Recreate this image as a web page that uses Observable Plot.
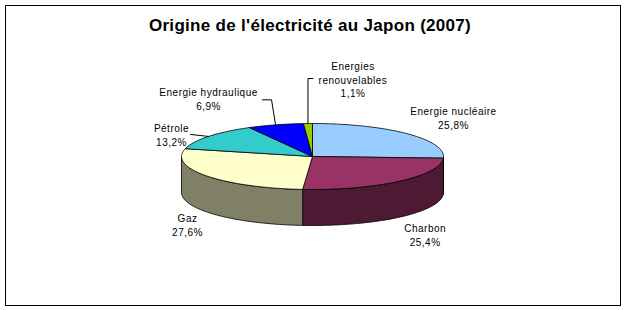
<!DOCTYPE html>
<html><head><meta charset="utf-8">
<script src="https://cdn.jsdelivr.net/npm/d3@7"></script>
<script src="https://cdn.jsdelivr.net/npm/@observablehq/plot@0.6"></script>
<style>html,body{margin:0;padding:0;background:#fff}</style>
</head><body><div id="chart"></div>
<script>
// ---- data ----
const title = "Origine de l'électricité au Japon (2007)";
const categories = ["Energie nucléaire", "Charbon", "Gaz", "Pétrole", "Energie hydraulique", "Energies renouvelables"];
const labelTexts = ["Energie nucléaire", "Charbon", "Gaz", "Pétrole", "Energie hydraulique", "Energies\nrenouvelables"];
const values = [25.8, 25.4, 27.6, 13.2, 6.9, 1.1];
const valueLabels = ["25,8%", "25,4%", "27,6%", "13,2%", "6,9%", "1,1%"];
const topColors = ["#99CCFF", "#993366", "#FFFFCC", "#33CCCC", "#0000FF", "#99CC00"];

// ---- layout (not data) ----
const W = 624, H = 310;
const cx = 312, cy = 156, rx = 131, ry = 33, depth = 36;
// label block offset from the slice's rim point at mid-angle
const labelOffset = [[46, -16], [26, 53], [-19, 49], [-37, -2], [-67, -26], [45, -44.5]];
// leader polylines relative to the rim point (null = no leader)
const leaderOffsets = [null, null, null, [[0, 0], [-18, -2]], [[0, 0], [-4, -25], [-13, -25]], [[0, 0], [0, -45], [5, -45]]];

const total = d3.sum(values);
let acc = 0;
const slices = values.map((v, i) => {
  const a0 = acc / total * 2 * Math.PI; acc += v;
  const a1 = acc / total * 2 * Math.PI;
  return {i, a0, a1, mid: (a0 + a1) / 2};
});
const px = a => cx + rx * Math.sin(a);
const py = a => cy - ry * Math.cos(a);
function arcPts(a0, a1, dy = 0) {
  const n = Math.max(2, Math.ceil((a1 - a0) / (Math.PI / 120)));
  return d3.range(n + 1).map(k => { const a = a0 + (a1 - a0) * k / n; return {x: px(a), y: py(a) + dy}; });
}
const darker = c => { const r = d3.rgb(c); return d3.rgb(r.r * 0.5, r.g * 0.5, r.b * 0.5).formatHex(); };

const marks = [Plot.frame({stroke: "#000", strokeWidth: 1})];
const strokeOpts = {stroke: "#000", strokeWidth: 0.8, strokeLinejoin: "round"};

// side faces (front half only)
slices.forEach(s => {
  const s0 = Math.max(s.a0, Math.PI / 2), s1 = Math.min(s.a1, 3 * Math.PI / 2);
  if (s1 <= s0) return;
  const top = arcPts(s0, s1), bot = arcPts(s0, s1, depth).reverse();
  const poly = [...top, ...bot, top[0]];
  marks.push(Plot.line(poly, {x: "x", y: "y", fill: darker(topColors[s.i]), ...strokeOpts}));
});
// top faces
slices.forEach(s => {
  const c = {x: cx, y: cy};
  const poly = [c, ...arcPts(s.a0, s.a1), c];
  marks.push(Plot.line(poly, {x: "x", y: "y", fill: topColors[s.i], ...strokeOpts}));
});
// leaders
slices.forEach(s => {
  const lo = leaderOffsets[s.i];
  if (!lo) return;
  const rim = {x: px(s.mid), y: py(s.mid)};
  marks.push(Plot.line(lo.map(([dx, dy]) => ({x: rim.x + dx, y: rim.y + dy})), {x: "x", y: "y", stroke: "#000", strokeWidth: 1}));
});
// labels
const labelData = slices.map(s => ({
  x: px(s.mid) + labelOffset[s.i][0],
  y: py(s.mid) + labelOffset[s.i][1],
  text: labelTexts[s.i] + "\n" + valueLabels[s.i]
}));
marks.push(Plot.text(labelData, {x: "x", y: "y", text: "text", fontSize: 10, lineHeight: 1.4, fill: "#000",
  textAnchor: "middle", lineAnchor: "middle"}));
// title
marks.push(Plot.text([title], {frameAnchor: "top", lineAnchor: "middle", dx: -3, dy: 20, fontSize: 17, fontWeight: "bold", fill: "#000"}));

const chart = Plot.plot({
  width: W, height: H,
  marginLeft: 5, marginRight: 4, marginTop: 5, marginBottom: 5,
  x: {domain: [0, W], range: [0, W], axis: null},
  y: {domain: [0, H], range: [0, H], axis: null},
  style: {fontFamily: "'Liberation Sans', Arial, sans-serif", background: "#fff", color: "#000"},
  marks
});
d3.select(chart).selectAll("text").each(function () {
  this.style.letterSpacing = this.textContent === title ? "0.3px" : "0.5px";
});
document.getElementById("chart").appendChild(chart);
</script>
</body></html>
